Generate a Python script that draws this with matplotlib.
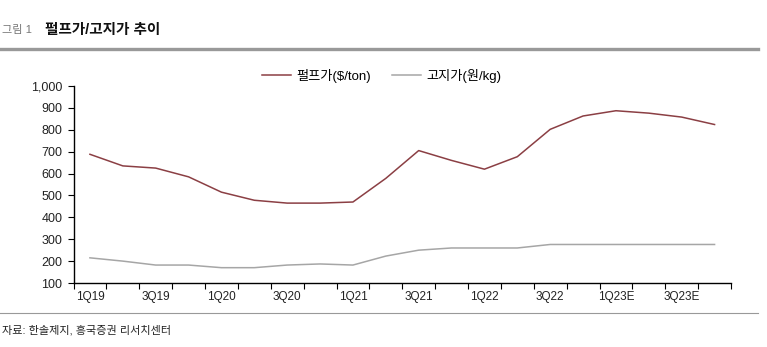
import matplotlib
matplotlib.use('Agg')
import matplotlib.pyplot as plt
import numpy as np

plt.rcParams['font.family'] = ['Liberation Sans', 'Noto Sans CJK KR', 'DejaVu Sans']

quarters = ['1Q19', '2Q19', '3Q19', '4Q19', '1Q20', '2Q20', '3Q20', '4Q20',
            '1Q21', '2Q21', '3Q21', '4Q21', '1Q22', '2Q22', '3Q22', '4Q22',
            '1Q23E', '2Q23E', '3Q23E', '4Q23E']
pulp = [688, 635, 625, 585, 515, 478, 465, 465, 470, 578, 705, 660, 620, 677,
        802, 863, 887, 876, 858, 824]
paper = [215, 200, 182, 182, 170, 170, 182, 187, 182, 223, 250, 260, 260, 260,
         276, 276, 276, 276, 276, 276]

W, H = 767, 347
fig = plt.figure(figsize=(W / 100, H / 100), dpi=100)
ax = fig.add_axes([73.5 / W, 1 - 283 / H, (731 - 73.5) / W, (283 - 86) / H])

x = np.arange(len(quarters))
ax.plot(x, pulp, color='#8B3F44', lw=1.1, label='펄프가($/ton)')
ax.plot(x, paper, color='#A6A6A6', lw=1.1, label='고지가(원/kg)')

ax.set_xlim(-0.5, len(quarters) - 0.5)
ax.set_ylim(100, 1000)
ax.set_yticks(range(100, 1001, 100))
ax.set_yticklabels([f'{v:,}' for v in range(100, 1001, 100)], fontsize=9, color='#222222')

# 눈금은 구간 경계, 라벨은 2분기마다
ax.set_xticks(np.arange(-0.5, len(quarters) + 0.5, 1))
ax.set_xticklabels([])
ax.set_xticks(x[::2], minor=True)
ax.set_xticklabels(quarters[::2], minor=True, fontsize=8.5, color='#222222')
ax.tick_params(axis='x', which='major', direction='out', length=4, width=0.8)
ax.tick_params(axis='x', which='minor', length=0, pad=6)
ax.tick_params(axis='y', direction='out', length=4, width=0.8, pad=4)

for s in ['top', 'right']:
    ax.spines[s].set_visible(False)
for s in ['left', 'bottom']:
    ax.spines[s].set_linewidth(1.0)

fig.legend(loc='center', bbox_to_anchor=(382 / W, 1 - 76 / H), ncol=2,
           frameon=False, fontsize=9.5, handlelength=2.2, columnspacing=1.6,
           handletextpad=0.4)

fig.text(2 / W, 1 - 30 / H, '그림 1', fontsize=8, color='#777777', va='center')
fig.text(45 / W, 1 - 30 / H, '펄프가/고지가 추이', fontsize=10.5, fontweight='bold',
         color='#111111', va='center')
fig.add_artist(plt.Line2D([0, 758 / W], [1 - 48.5 / H, 1 - 48.5 / H], color='#999999', lw=2.4))
fig.add_artist(plt.Line2D([0, 758 / W], [1 - 312.5 / H, 1 - 312.5 / H], color='#999999', lw=0.8))
fig.text(2 / W, 1 - 330 / H, '자료: 한솔제지, 흥국증권 리서치센터', fontsize=8,
         color='#222222', va='center')

fig.savefig('out.png', dpi=100)
